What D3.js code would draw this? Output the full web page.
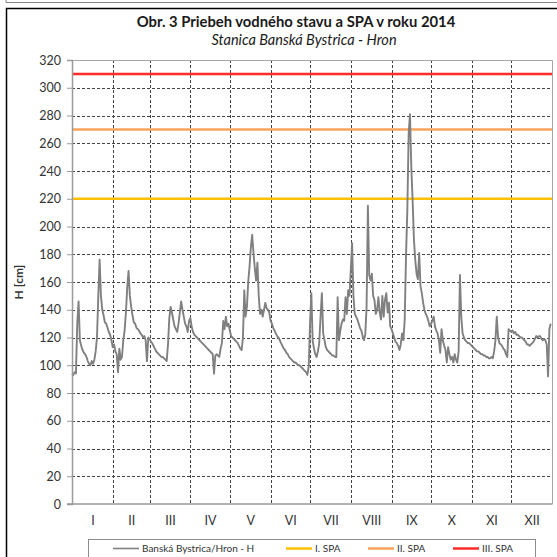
<!DOCTYPE html>
<html lang="sk">
<head>
<meta charset="utf-8">
<script src="https://cdn.jsdelivr.net/npm/d3@7"></script>
<style>
  body { margin: 0; background: #fff; }
  svg text { font-family: Lato, "Open Sans", sans-serif; fill: #333; }
  .grid line { stroke: #444; stroke-width: 1; stroke-dasharray: 3,2; }
  .yaxis .domain, .xaxis .domain { stroke: #9a9a9a; stroke-width: 1.5; }
  .yaxis .tick line { stroke: #9a9a9a; }
</style>
</head>
<body>
<svg width="557" height="557"></svg>
<script>
// daily water level H [cm], Banska Bystrica - Hron, 2014
var levelsJan = [94,93,95,94,130,146,118,114,111,109,108,106,103,101,100,103,101,104,110,120,150,176,150,140,136,131,130,127,124,122,118];
var levelsFeb = [113,115,110,108,95,112,104,106,118,125,138,156,168,150,142,136,131,130,127,126,125,123,122,120,121,118,103,120];
var levelsMar = [119,117,116,114,112,110,109,108,107,106,106,105,104,103,115,134,142,138,133,128,126,124,130,138,146,140,135,130,128,124,132];
var levelsApr = [134,128,124,122,121,120,119,118,117,116,115,114,113,112,111,110,109,108,94,107,108,107,106,112,116,132,126,135,128,130];
var levelsMay = [125,121,120,119,118,117,116,114,112,111,120,154,135,142,160,171,185,194,181,170,161,174,150,137,140,135,140,145,141,140,138];
var levelsJun = [132,130,127,125,123,121,120,118,116,114,112,111,109,108,106,105,104,103,102,102,101,100,100,99,98,97,96,95,93,99];
var levelsJul = [130,152,118,112,108,106,110,116,135,152,123,118,113,111,110,109,108,107,107,106,106,149,118,125,130,133,132,149,137,154,150];
var levelsAug = [169,188,150,137,135,133,130,127,125,121,118,122,142,215,165,161,166,150,147,137,140,149,138,133,150,135,147,152,138,145,128];
var levelsSep = [126,123,120,117,116,114,111,115,123,118,133,179,212,267,281,243,219,191,176,166,162,181,157,152,145,140,137,135,132,128];
var levelsOct = [130,132,135,128,125,123,118,109,126,118,114,111,102,113,108,104,106,102,108,104,102,110,165,135,123,120,118,117,116,116,115];
var levelsNov = [114,113,112,111,110,110,109,108,108,107,107,106,106,105,105,106,105,110,118,135,120,116,115,114,112,111,108,106,126,125];
var levelsDec = [124,125,123,124,122,122,121,120,120,119,118,117,115,115,114,115,116,117,119,121,120,121,121,119,118,119,118,115,92,126,130];

var monthLabels = ["I","II","III","IV","V","VI","VII","VIII","IX","X","XI","XII"];
var spaNames = ["I. SPA","II. SPA","III. SPA"];
var spaLevels = [220, 270, 310];
var yTicks = d3.range(0, 321, 20);

var seriesName = "Banská Bystrica/Hron - H";
var spaColors = ["#ffc000", "#f7a35c", "#ff2a2a"];

var svg = d3.select("svg");
var plotL = 72, plotR = 552, plotT = 60, plotB = 504;

// outer frames
svg.append("line").attr("x1", 6).attr("x2", 557).attr("y1", 2.5).attr("y2", 2.5)
  .attr("stroke", "#888").attr("stroke-width", 1);
svg.append("line").attr("x1", 6).attr("x2", 6).attr("y1", 0).attr("y2", 2.5)
  .attr("stroke", "#888").attr("stroke-width", 1);
svg.append("path").attr("d", "M6.5,557V8.5H557")
  .attr("fill", "none").attr("stroke", "#000").attr("stroke-width", 1.5);

svg.append("text").attr("x", 296).attr("y", 27).attr("text-anchor", "middle")
  .style("font-size", "14.8px").style("font-weight", "bold").style("fill", "#1a1a1a")
  .text("Obr. 3 Priebeh vodného stavu a SPA v roku 2014");
svg.append("text").attr("x", 304).attr("y", 45).attr("text-anchor", "middle")
  .style("font-size", "14.5px").style("font-style", "italic").style("fill", "#1a1a1a")
  .text("Stanica Banská Bystrica - Hron");

var levels = [].concat(levelsJan, levelsFeb, levelsMar, levelsApr, levelsMay, levelsJun,
  levelsJul, levelsAug, levelsSep, levelsOct, levelsNov, levelsDec);
var start = new Date(Date.UTC(2014, 0, 1));
var end = new Date(Date.UTC(2015, 0, 1));
var data = levels.map(function(v, i) {
  return { date: d3.utcDay.offset(start, i), value: v };
});

var x = d3.scaleUtc().domain([start, end]).range([plotL, plotR]);
var y = d3.scaleLinear().domain([0, 320]).range([plotB, plotT]);

var monthStarts = d3.utcMonth.range(start, end);
var monthMids = monthStarts.map(function(m) {
  var next = d3.utcMonth.offset(m, 1);
  return new Date((+m + +next) / 2);
});

// gridlines
var grid = svg.append("g").attr("class", "grid");
grid.selectAll(".h").data(yTicks.filter(function(t) { return t > 0 && t < 320; }))
  .enter().append("line")
  .attr("x1", plotL).attr("x2", plotR)
  .attr("y1", function(d) { return Math.round(y(d)) + 0.5; })
  .attr("y2", function(d) { return Math.round(y(d)) + 0.5; });
grid.selectAll(".v").data(monthStarts.slice(1))
  .enter().append("line")
  .attr("y1", plotT).attr("y2", plotB)
  .attr("x1", function(d) { return Math.round(x(d)) + 0.5; })
  .attr("x2", function(d) { return Math.round(x(d)) + 0.5; });

// plot frame (top/right)
svg.append("path")
  .attr("d", "M" + plotL + "," + (plotT + 0.5) + "H" + (plotR + 0.5) + "V" + plotB)
  .attr("fill", "none").attr("stroke", "#a6a6a6").attr("stroke-width", 1);

// SPA levels
svg.append("g").selectAll("line").data(spaLevels).enter().append("line")
  .attr("x1", plotL).attr("x2", plotR)
  .attr("y1", function(d) { return y(d); }).attr("y2", function(d) { return y(d); })
  .attr("stroke", function(d, i) { return spaColors[i]; })
  .attr("stroke-width", 2.5);

// water level
var line = d3.line()
  .x(function(d) { return x(d.date); })
  .y(function(d) { return y(d.value); });
svg.append("path").datum(data)
  .attr("d", line)
  .attr("fill", "none").attr("stroke", "#808080").attr("stroke-width", 1.9)
  .attr("stroke-linejoin", "round");

// axes
var yAxis = svg.append("g").attr("class", "yaxis")
  .attr("transform", "translate(" + plotL + ",0)")
  .call(d3.axisLeft(y).tickValues(yTicks).tickSize(5).tickSizeOuter(5).tickPadding(6));
yAxis.selectAll("text").style("font-size", "12.5px");

var xAxis = svg.append("g").attr("class", "xaxis")
  .attr("transform", "translate(0," + plotB + ")")
  .call(d3.axisBottom(x).tickValues(monthMids).tickSize(0).tickPadding(12)
    .tickFormat(function(d, i) { return monthLabels[i]; }));
xAxis.select(".domain").attr("d", "M" + (plotL - 5) + ",0H" + (plotR + 0.5));
xAxis.selectAll("text").style("font-size", "12.5px");

svg.append("text")
  .attr("transform", "translate(23," + ((plotT + plotB) / 2) + ") rotate(-90)")
  .attr("text-anchor", "middle")
  .style("font-size", "12px").style("font-weight", "bold")
  .text("H [cm]");

// legend
svg.append("rect").attr("x", 88.5).attr("y", 539.5).attr("width", 447).attr("height", 30)
  .attr("fill", "#fff").attr("stroke", "#8c8c8c");
var legendItems = [{ name: seriesName, color: "#808080", w: 1.6 }].concat(
  spaNames.map(function(n, i) { return { name: n, color: spaColors[i], w: 2.5 }; }));
var legendX = [113, 286, 368, 453];
var lg = svg.append("g").selectAll("g").data(legendItems).enter().append("g")
  .attr("transform", function(d, i) { return "translate(" + legendX[i] + ",548.5)"; });
lg.append("line").attr("x1", 0).attr("x2", 26)
  .attr("stroke", function(d) { return d.color; })
  .attr("stroke-width", function(d) { return d.w; });
lg.append("text").attr("x", 29).attr("dy", "0.35em")
  .style("font-size", "10px")
  .text(function(d) { return d.name; });
</script>
</body>
</html>
